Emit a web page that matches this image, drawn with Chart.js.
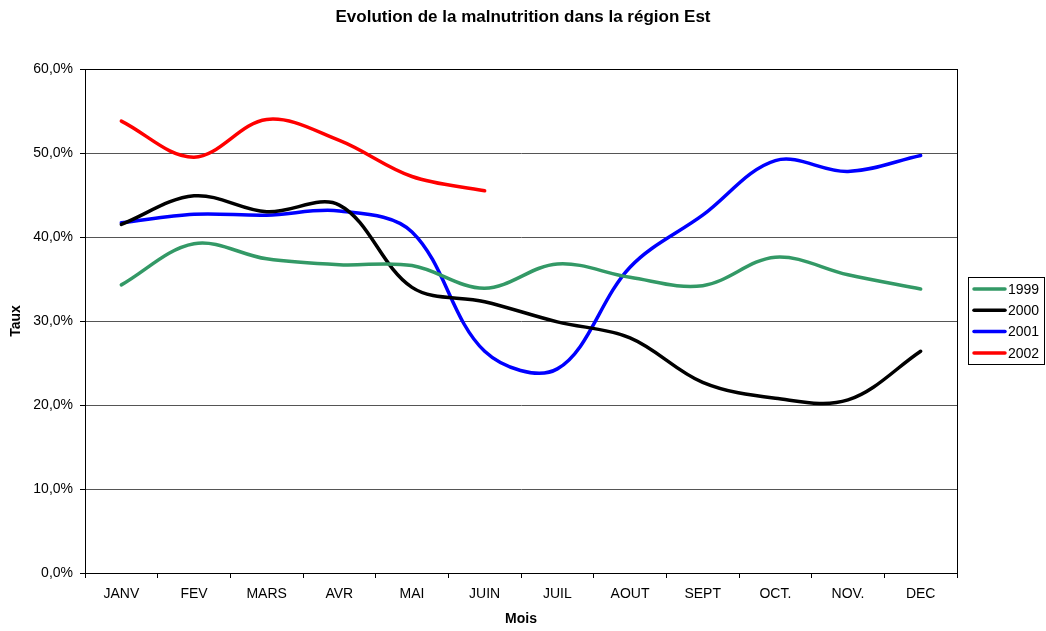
<!DOCTYPE html>
<html>
<head>
<meta charset="utf-8">
<script src="https://cdn.jsdelivr.net/npm/chart.js@4/dist/chart.umd.min.js"></script>
<style>
html,body{margin:0;padding:0;background:#fff;}
#wrap{width:1046px;height:631px;}
</style>
</head>
<body>
<div id="wrap"><canvas id="c" width="1046" height="631"></canvas></div>
<script>
const months = ["JANV","FEV","MARS","AVR","MAI","JUIN","JUIL","AOUT","SEPT","OCT.","NOV.","DEC"];
const seriesNames = ["1999","2000","2001","2002"];
const values1999 = [34.3, 39.2, 37.4, 36.7, 36.6, 33.9, 36.8, 35.2, 34.2, 37.6, 35.5, 33.8];
const values2000 = [41.5, 44.9, 43.0, 43.8, 34.0, 32.3, 29.9, 28.0, 22.7, 20.8, 20.6, 26.4];
const values2001 = [41.7, 42.7, 42.6, 43.1, 40.6, 26.4, 24.3, 36.4, 42.6, 49.1, 47.8, 49.7];
const values2002 = [53.8, 49.5, 54.0, 51.5, 47.2, 45.5, null, null, null, null, null, null];
const yTicks = [0, 10, 20, 30, 40, 50, 60];
const colors = ["#339966", "#000000", "#0000FF", "#FF0000"];

const FONT = "'Liberation Sans', Arial, sans-serif";
Chart.defaults.font.family = FONT;
Chart.defaults.color = "#000";

const allValues = [values1999, values2000, values2001, values2002];
const datasets = allValues.map((v, i) => ({
  label: seriesNames[i],
  data: v,
  borderColor: colors[i],
  backgroundColor: colors[i],
  borderWidth: 3.5,
  borderCapStyle: 'round',
  borderJoinStyle: 'round',
  pointRadius: 0,
  pointHoverRadius: 0,
  tension: 0.35,
  fill: false,
  spanGaps: false
}));

const framePlugin = {
  id: 'frame',
  afterDraw(chart) {
    const ctx = chart.ctx;
    const a = chart.chartArea;
    ctx.save();
    ctx.strokeStyle = '#000';
    ctx.lineWidth = 1;
    ctx.strokeRect(Math.round(a.left) + 0.5, Math.round(a.top) + 0.5, Math.round(a.right - a.left), Math.round(a.bottom - a.top));
    // legend
    const lx = 968, ly = 277, lw = 76, lh = 87;
    ctx.strokeRect(lx + 0.5, ly + 0.5, lw, lh);
    ctx.font = "14px " + FONT;
    ctx.textBaseline = 'middle';
    ctx.textAlign = 'left';
    chart.data.datasets.forEach((ds, i) => {
      const y = 289 + i * 21.3;
      ctx.strokeStyle = ds.borderColor;
      ctx.lineWidth = 3.5;
      ctx.lineCap = 'round';
      ctx.beginPath();
      ctx.moveTo(974, y);
      ctx.lineTo(1005, y);
      ctx.stroke();
      ctx.fillStyle = '#000';
      ctx.fillText(ds.label, 1008, y + 1);
    });
    ctx.restore();
  }
};

new Chart(document.getElementById('c'), {
  type: 'line',
  data: { labels: months, datasets: datasets },
  options: {
    responsive: false,
    animation: false,
    events: [],
    layout: { padding: { left: 0, right: 0, top: 0, bottom: 0 } },
    plugins: {
      legend: { display: false },
      tooltip: { enabled: false },
      title: {
        display: true,
        text: "Evolution de la malnutrition dans la région Est",
        font: { size: 17, weight: 'bold', family: FONT },
        color: '#000',
        padding: { top: 7, bottom: 41.6 }
      }
    },
    scales: {
      x: {
        offset: true,
        grid: { display: true, offset: true, drawOnChartArea: false, color: '#000', tickLength: 5, tickColor: '#000' },
        border: { display: true, color: '#000', width: 1 },
        ticks: { font: { size: 14, family: FONT }, color: '#000', padding: 8, maxRotation: 0, autoSkip: false },
        title: { display: true, text: 'Mois', font: { size: 14, weight: 'bold', family: FONT }, color: '#000', padding: { top: 0, bottom: 3.5 } },
        afterFit(s) { s.height = 58; }
      },
      y: {
        min: 0, max: 60,
        afterBuildTicks(s) { s.ticks = yTicks.map(v => ({ value: v })); },
        grid: { display: true, color: '#555', tickLength: 5, tickColor: '#000' },
        border: { display: true, color: '#000', width: 1 },
        ticks: {
          font: { size: 14, family: FONT }, color: '#000', padding: 7,
          callback: v => v.toFixed(1).replace('.', ',') + '%'
        },
        title: { display: true, text: 'Taux', font: { size: 14, weight: 'bold', family: FONT }, color: '#000', padding: { top: 7.5, bottom: 0 } },
        afterFit(s) { s.width = 85; }
      },
      legendSpace: {
        type: 'linear',
        position: 'right',
        display: true,
        grid: { display: false },
        border: { display: false },
        ticks: { display: false },
        title: { display: false },
        afterFit(s) { s.width = 89; }
      }
    }
  },
  plugins: [framePlugin]
});
</script>
</body>
</html>
